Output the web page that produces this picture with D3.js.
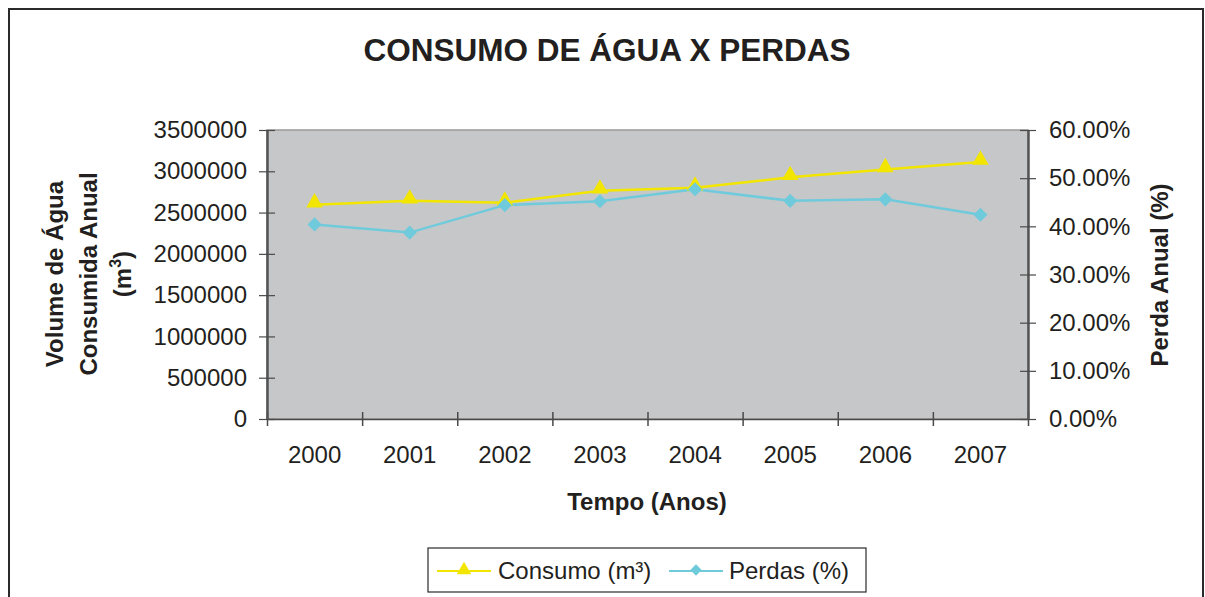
<!DOCTYPE html>
<html lang="pt">
<head>
    <meta charset="UTF-8">
    <title>Consumo de Água x Perdas</title>
    <script src="https://d3js.org/d3.v7.min.js"></script>
    <style>
        body { margin: 0; background: #fff; }
        svg text { font-family: "Liberation Sans", Arial, sans-serif; fill: #231f20; }
    </style>
</head>
<body>
    <div id="chart"></div>
    <script>
        // chart data
        const years = ["2000", "2001", "2002", "2003", "2004", "2005", "2006", "2007"];
        const consumo = [2595000, 2643000, 2619000, 2764000, 2800000, 2927000, 3023000, 3112000];
        const perdas = [0.404, 0.387, 0.444, 0.452, 0.477, 0.453, 0.456, 0.424];
        const leftTicks = [0, 500000, 1000000, 1500000, 2000000, 2500000, 3000000, 3500000];
        const rightTicks = [0, 0.1, 0.2, 0.3, 0.4, 0.5, 0.6];

        const W = 1205, H = 597;
        const margin = { top: 130, right: 177, bottom: 178, left: 267 };
        const width = W - margin.left - margin.right;
        const height = H - margin.top - margin.bottom;

        const svg = d3.select("#chart").append("svg")
            .attr("width", W)
            .attr("height", H);

        // outer frame
        svg.append("rect")
            .attr("x", 9).attr("y", 9)
            .attr("width", 1194).attr("height", 600)
            .attr("fill", "none")
            .attr("stroke", "#2a2a2a")
            .attr("stroke-width", 2);

        svg.append("text")
            .attr("x", 607).attr("y", 61)
            .attr("text-anchor", "middle")
            .style("font-size", "31.5px")
            .style("font-weight", "bold")
            .text("CONSUMO DE ÁGUA X PERDAS");

        const g = svg.append("g")
            .attr("transform", "translate(" + margin.left + "," + margin.top + ")");

        const x = d3.scaleBand().domain(years).range([0, width]).padding(0);
        const xEdge = d3.scaleLinear().domain([0, years.length]).range([0, width]);
        const yLeft = d3.scaleLinear().domain([0, 3500000]).range([height, 0]);
        const yRight = d3.scaleLinear().domain([0, 0.6]).range([height, 0]);

        // plot background
        g.append("rect")
            .attr("width", width).attr("height", height)
            .attr("fill", "#c6c7c9")
            .attr("stroke", "#9a9a9a")
            .attr("stroke-width", 1.5);

        // x axis: labels centred in bands, tick marks on the band edges
        const xLabels = g.append("g")
            .attr("transform", "translate(0," + height + ")")
            .call(d3.axisBottom(x).tickSize(0).tickPadding(27));
        xLabels.select(".domain").remove();
        xLabels.selectAll("text").style("font-size", "24px").attr("fill", "#231f20");

        const xTicks = g.append("g")
            .attr("transform", "translate(0," + height + ")")
            .call(d3.axisBottom(xEdge).tickValues(d3.range(0, years.length + 1)).tickFormat("").tickSizeOuter(0));
        xTicks.selectAll(".tick line").attr("y1", -7).attr("y2", 7);
        xTicks.selectAll("line, path").attr("stroke", "#4a4a4a").attr("stroke-width", 1.5);

        const yAxisL = g.append("g")
            .call(d3.axisLeft(yLeft).tickValues(leftTicks).tickFormat(d3.format("d")).tickSize(8).tickPadding(12).tickSizeOuter(0));
        yAxisL.selectAll(".tick line").attr("x1", 8);
        yAxisL.selectAll("line").attr("stroke", "#4a4a4a").attr("stroke-width", 1.2);
        yAxisL.select(".domain").attr("stroke", "#555").attr("stroke-width", 2.5);
        yAxisL.selectAll("text").style("font-size", "24px").attr("fill", "#231f20");

        const yAxisR = g.append("g")
            .attr("transform", "translate(" + width + ",0)")
            .call(d3.axisRight(yRight).tickValues(rightTicks).tickFormat(d3.format(".2%")).tickSize(8).tickPadding(13).tickSizeOuter(0));
        yAxisR.selectAll(".tick line").attr("x1", -8);
        yAxisR.selectAll("line").attr("stroke", "#4a4a4a").attr("stroke-width", 1.2);
        yAxisR.select(".domain").attr("stroke", "#555").attr("stroke-width", 2.5);
        yAxisR.selectAll("text").style("font-size", "24px").attr("fill", "#231f20");

        // axis titles
        svg.append("text")
            .attr("x", 647).attr("y", 510)
            .attr("text-anchor", "middle")
            .style("font-size", "24px").style("font-weight", "bold")
            .text("Tempo (Anos)");

        const leftTitle = svg.append("text")
            .attr("transform", "translate(63,274) rotate(-90)")
            .attr("text-anchor", "middle")
            .style("font-size", "24px").style("font-weight", "bold");
        leftTitle.append("tspan").attr("x", 0).attr("dy", 0).text("Volume de Água");
        leftTitle.append("tspan").attr("x", 0).attr("dy", 34).text("Consumida Anual");
        leftTitle.append("tspan").attr("x", 0).attr("dy", 34).text("(m");
        leftTitle.append("tspan").attr("dy", -10).style("font-size", "16px").text("3");
        leftTitle.append("tspan").attr("dy", 10).text(")");

        svg.append("text")
            .attr("transform", "translate(1168,275) rotate(-90)")
            .attr("text-anchor", "middle")
            .style("font-size", "24px").style("font-weight", "bold")
            .text("Perda Anual (%)");

        // series
        const cx = d => x(d) + x.bandwidth() / 2;
        const yellow = "#f2e600", cyan = "#6fcbdc";

        g.append("path")
            .datum(years)
            .attr("fill", "none").attr("stroke", yellow).attr("stroke-width", 2.5)
            .attr("d", d3.line().x(d => cx(d)).y((d, i) => yLeft(consumo[i])));

        g.append("path")
            .datum(years)
            .attr("fill", "none").attr("stroke", cyan).attr("stroke-width", 2.5)
            .attr("d", d3.line().x(d => cx(d)).y((d, i) => yRight(perdas[i])));

        const tri = d3.symbol().type(d3.symbolTriangle).size(120);
        const dia = d3.symbol().type(d3.symbolSquare).size(100);

        g.selectAll(".tri").data(years).enter().append("path")
            .attr("class", "tri")
            .attr("d", tri)
            .attr("fill", yellow)
            .attr("transform", (d, i) => "translate(" + cx(d) + "," + (yLeft(consumo[i]) - 2) + ")");

        g.selectAll(".dia").data(years).enter().append("path")
            .attr("class", "dia")
            .attr("d", dia)
            .attr("fill", cyan)
            .attr("transform", (d, i) => "translate(" + cx(d) + "," + yRight(perdas[i]) + ") rotate(45)");

        // legend
        const legend = svg.append("g");
        legend.append("rect")
            .attr("x", 428).attr("y", 548)
            .attr("width", 438).attr("height", 44)
            .attr("fill", "#fff").attr("stroke", "#2a2a2a").attr("stroke-width", 1.2);
        const items = [
            { label: "Consumo (m³)", color: yellow, sym: d3.symbol().type(d3.symbolTriangle).size(90), rot: 0, x0: 437, tx: 498 },
            { label: "Perdas (%)", color: cyan, sym: d3.symbol().type(d3.symbolSquare).size(64), rot: 45, x0: 669, tx: 729 }
        ];
        items.forEach(it => {
            legend.append("line")
                .attr("x1", it.x0).attr("x2", it.x0 + 54)
                .attr("y1", 571).attr("y2", 571)
                .attr("stroke", it.color).attr("stroke-width", 2);
            legend.append("path")
                .attr("d", it.sym())
                .attr("fill", it.color)
                .attr("transform", "translate(" + (it.x0 + 27) + ",570) rotate(" + it.rot + ")");
            legend.append("text")
                .attr("x", it.tx).attr("y", 579)
                .style("font-size", "24px")
                .text(it.label);
        });
    </script>
</body>
</html>
